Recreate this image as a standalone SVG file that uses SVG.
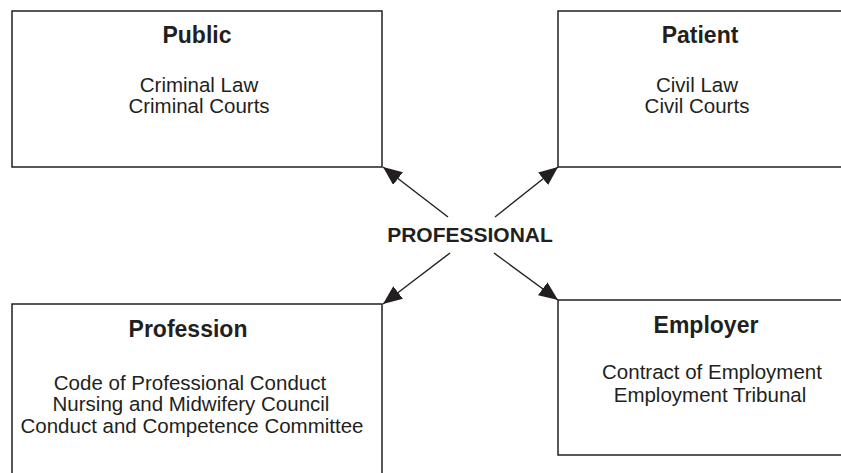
<svg xmlns="http://www.w3.org/2000/svg" width="841" height="473" viewBox="0 0 841 473">
  <style>
    .box { fill: #ffffff; stroke: #231f20; stroke-width: 1.5; }
    .title { font-family: "Liberation Sans", Arial, sans-serif; font-weight: bold; font-size: 23px; fill: #231f20; text-anchor: middle; }
    .body { font-family: "Liberation Sans", Arial, sans-serif; font-size: 20.5px; fill: #231f20; text-anchor: middle; }
    .centre { font-family: "Liberation Sans", Arial, sans-serif; font-weight: bold; font-size: 21px; fill: #231f20; text-anchor: middle; }
    .link { stroke: #231f20; stroke-width: 1.4; fill: none; marker-end: url(#head); }
  </style>
  <defs>
    <marker id="head" markerUnits="userSpaceOnUse" markerWidth="20" markerHeight="16" refX="19" refY="8" orient="auto">
      <path d="M0,0 L19,8 L0,16 Z" fill="#231f20"/>
    </marker>
  </defs>
  <rect width="841" height="473" fill="#ffffff"/>

  <!-- four spheres of accountability -->
  <g id="public">
    <rect class="box" x="12" y="11" width="370" height="156"/>
    <text class="title" x="197" y="43">Public</text>
    <text class="body" x="199" y="92">Criminal Law</text>
    <text class="body" x="199" y="113">Criminal Courts</text>
  </g>

  <g id="patient">
    <path class="box" d="M845,11 H558 V167 H845"/>
    <text class="title" x="700" y="43">Patient</text>
    <text class="body" x="697" y="92">Civil Law</text>
    <text class="body" x="697" y="113">Civil Courts</text>
  </g>

  <g id="profession">
    <path class="box" d="M12,478 V304 H382 V478"/>
    <text class="title" x="188" y="337">Profession</text>
    <text class="body" x="190" y="390">Code of Professional Conduct</text>
    <text class="body" x="191" y="411">Nursing and Midwifery Council</text>
    <text class="body" x="192" y="433">Conduct and Competence Committee</text>
  </g>

  <g id="employer">
    <path class="box" d="M845,300 H558 V455 H845"/>
    <text class="title" x="706" y="333">Employer</text>
    <text class="body" x="712" y="379">Contract of Employment</text>
    <text class="body" x="710" y="402">Employment Tribunal</text>
  </g>

  <g id="professional">
    <text class="centre" x="470" y="242">PROFESSIONAL</text>
  </g>

  <!-- arrows out from the professional to each sphere -->
  <g id="connectors">
    <line class="link" x1="448" y1="217" x2="383" y2="167"/>
    <line class="link" x1="495" y1="217" x2="558" y2="167"/>
    <line class="link" x1="450" y1="253" x2="383" y2="304"/>
    <line class="link" x1="494" y1="253" x2="558" y2="300"/>
  </g>
</svg>
